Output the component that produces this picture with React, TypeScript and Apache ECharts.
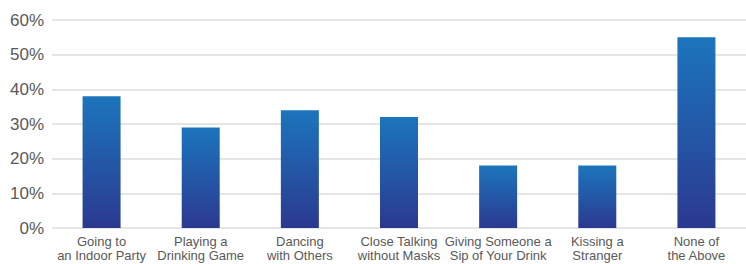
import React, { useEffect, useRef } from "react";
import * as echarts from "echarts";

const categories = [
  "Going to\nan Indoor Party",
  "Playing a\nDrinking Game",
  "Dancing\nwith Others",
  "Close Talking\nwithout Masks",
  "Giving Someone a\nSip of Your Drink",
  "Kissing a\nStranger",
  "None of\nthe Above",
];
const values = [38, 29, 34, 32, 18, 18, 55];
const yTicks = [0, 10, 20, 30, 40, 50, 60];

const FONT = "'Liberation Sans', Arial, sans-serif";

export default function App() {
  const ref = useRef<HTMLDivElement>(null);
  useEffect(() => {
    document.body.style.margin = "0";
    document.body.style.overflow = "hidden";
    const chart = echarts.init(ref.current!, null, { renderer: "svg" });
    chart.setOption({
      animation: false,
      grid: { left: 52, right: -6, top: 20, bottom: 36 },
      xAxis: {
        type: "category",
        data: categories,
        axisLine: { show: false },
        axisTick: { show: false },
        axisLabel: {
          interval: 0,
          color: "#58595b",
          fontFamily: FONT,
          fontSize: 13,
          lineHeight: 14,
          margin: 6,
        },
      },
      yAxis: {
        type: "value",
        min: yTicks[0],
        max: yTicks[yTicks.length - 1],
        interval: 10,
        axisLine: { show: false },
        axisTick: { show: false },
        splitLine: { lineStyle: { color: "#dcdcdc", width: 1.5 } },
        axisLabel: {
          formatter: "{value}%",
          color: "#58595b",
          fontFamily: FONT,
          fontSize: 17,
          margin: 8,
        },
      },
      series: [
        {
          type: "bar",
          data: values,
          barWidth: 38,
          itemStyle: {
            color: new echarts.graphic.LinearGradient(0, 0, 0, 1, [
              { offset: 0, color: "#1c75bc" },
              { offset: 1, color: "#2b3990" },
            ]),
          },
        },
      ],
    });
    return () => chart.dispose();
  }, []);
  return <div ref={ref} style={{ width: 746, height: 264 }} />;
}
